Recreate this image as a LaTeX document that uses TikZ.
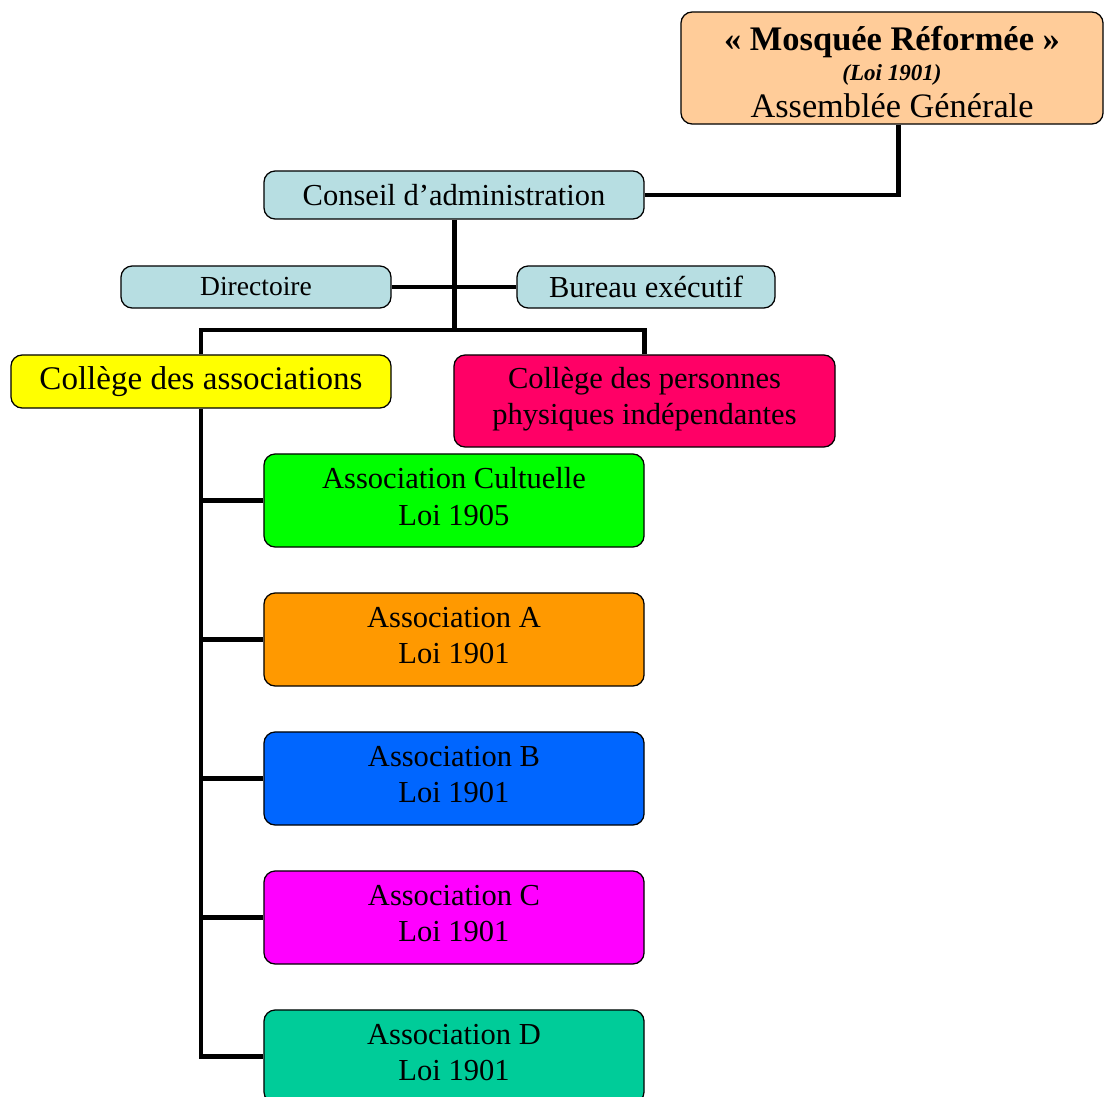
\documentclass[tikz,border=0pt]{standalone}
\usepackage{fontspec}
\setmainfont{Liberation Serif}
\definecolor{agfill}{RGB}{255,204,153}
\definecolor{cafill}{RGB}{183,222,226}
\definecolor{collfill}{RGB}{255,255,0}
\definecolor{persfill}{RGB}{255,0,102}
\definecolor{cultfill}{RGB}{0,255,0}
\definecolor{afill}{RGB}{255,153,0}
\definecolor{bfill}{RGB}{0,102,255}
\definecolor{cfill}{RGB}{255,0,255}
\definecolor{dfill}{RGB}{0,204,153}

\begin{document}
\begin{tikzpicture}[x=0.025cm,y=-0.025cm,
  box/.style={draw,rounded corners=8pt,line width=0.9pt,inner sep=0pt,align=center,
    font=\fontsize{21.7}{26}\selectfont},
  assoc/.style={box,minimum width=9.5cm,minimum height=2.325cm,text depth=5.8pt},
  link/.style={line width=3.55pt}]
\useasboundingbox (0,0) rectangle (1104,1097);

\path (892,68) node (ag) [box,fill=agfill,minimum width=10.55cm,minimum height=2.8cm]
  {{\fontsize{24.5}{26}\selectfont\bfseries\rule{0pt}{23.3pt}« Mosquée Réformée »}\\[-4.3pt]
   {\fontsize{16.4}{18}\selectfont\bfseries\itshape (Loi 1901)}\\[0.3pt]
   {\fontsize{24.4}{26}\selectfont Assemblée Générale}};
\path (454,195) node (conseil) [box,fill=cafill,minimum width=9.5cm,minimum height=1.2cm] {Conseil d’administration};
\path (256,287) node (dir) [box,fill=cafill,minimum width=6.75cm,minimum height=1.05cm,
  font=\fontsize{19.6}{24}\selectfont] {Directoire};
\path (646,287) node (bureau) [box,fill=cafill,minimum width=6.45cm,minimum height=1.05cm] {Bureau exécutif};

\path (201,381.5) node (coll) [box,fill=collfill,minimum width=9.5cm,minimum height=1.325cm,
  font=\fontsize{23.5}{28}\selectfont] {Collège des associations};
\path (644.5,401) node (pers) [box,fill=persfill,minimum width=9.525cm,minimum height=2.3cm,text depth=7.5pt]
  {Collège des personnes\\physiques indépendantes};

\path (454,500.5) node (cultuelle) [assoc,fill=cultfill] {Association Cultuelle\\Loi 1905};
\path (454,639.5) node (assocA) [assoc,fill=afill] {Association A\\Loi 1901};
\path (454,778.5) node (assocB) [assoc,fill=bfill] {Association B\\Loi 1901};
\path (454,917.5) node (assocC) [assoc,fill=cfill] {Association C\\Loi 1901};
\path (454,1056.5) node (assocD) [assoc,fill=dfill] {Association D\\Loi 1901};

\path (454,330) coordinate (split);

\draw [link] ([xshift=4.3pt]ag.south) |- (conseil.east);
\draw [link] (dir.east) to (bureau.west);
\draw [link] (conseil.south) to (split);
\draw [link] (coll.north) |- (split) -| (pers.north);

% associations
\draw [link] (coll.south) |- (assocD.west);
\foreach \a in {cultuelle,assocA,assocB,assocC}
  \draw [link] (coll.south |- \a.west) to (\a.west);

\end{tikzpicture}
\end{document}
